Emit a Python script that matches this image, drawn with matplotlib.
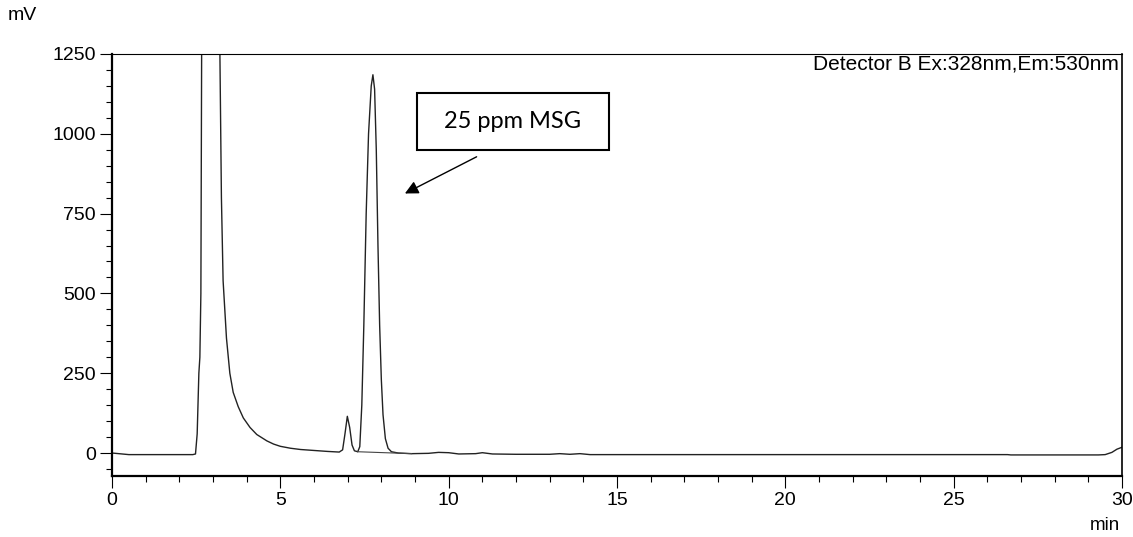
import matplotlib
matplotlib.use("Agg")
import matplotlib.pyplot as plt
from matplotlib.patches import Rectangle
from matplotlib.ticker import MultipleLocator

# Chromatogram trace (time in min, signal in mV)
time_min = [0.0, 0.3, 0.5, 1.5, 2.4, 2.48, 2.53, 2.58, 2.61, 2.64, 2.67, 2.75, 2.9,
            3.1, 3.2, 3.25, 3.3, 3.4, 3.5, 3.6, 3.75, 3.9, 4.1, 4.3, 4.45, 4.6, 4.8,
            5.0, 5.3, 5.6, 6.0, 6.4, 6.75, 6.85, 6.92, 6.99, 7.06, 7.13, 7.2, 7.3,
            7.36, 7.42, 7.48, 7.55, 7.62, 7.7, 7.75, 7.8, 7.85, 7.9, 7.95, 8.0, 8.05,
            8.12, 8.2, 8.3, 8.5, 8.9, 9.4, 9.7, 10.0, 10.3, 10.8, 11.0, 11.3, 12.0,
            13.0, 13.3, 13.6, 13.9, 14.2, 20.0, 26.6, 26.7, 29.3, 29.5, 29.7, 29.85, 30.0]
signal_mv = [0, -3, -5, -5, -5, -3, 60, 250, 300, 500, 1500, 2500, 2800,
             2000, 1300, 800, 540, 360, 250, 190, 145, 110, 80, 58, 48, 38, 28,
             21, 15, 11, 8, 5, 3, 10, 60, 115, 80, 25, 7, 4,
             20, 150, 400, 750, 1000, 1150, 1185, 1140, 950, 650, 400, 230, 120,
             45, 15, 4, 0, -2, -1, 2, 1, -3, -2, 1, -3, -4,
             -4, -2, -4, -2, -5, -5, -5, -6, -6, -5, 2, 12, 18]

# Integration baseline under the MSG peak
base_time = [7.3, 8.9]
base_mv = [4, -2]

x_ticks = [0, 5, 10, 15, 20, 25, 30]
y_ticks = [0, 250, 500, 750, 1000, 1250]

W, H = 1133, 537
fig = plt.figure(figsize=(W / 100, H / 100), dpi=100)
ax = fig.add_axes([112 / W, 1 - 476 / H, (1122 - 112) / W, (476 - 54) / H])

ax.plot(time_min, signal_mv, color="#222222", lw=1.0)
ax.plot(base_time, base_mv, color="#444444", lw=0.8)

ax.set_xlim(0, 30)
ax.set_ylim(-72, 1250)
ax.set_xticks(x_ticks)
ax.set_yticks(y_ticks)
ax.xaxis.set_minor_locator(MultipleLocator(1))
ax.yaxis.set_minor_locator(MultipleLocator(50))

font = "Liberation Sans"
ax.tick_params(which="major", direction="out", length=8.5, width=0.8, labelsize=14, pad=3)
ax.tick_params(which="minor", direction="out", length=4.3, width=0.8)
for lab in ax.get_xticklabels() + ax.get_yticklabels():
    lab.set_fontfamily(font)

ax.spines["left"].set_linewidth(1.6)
ax.spines["bottom"].set_linewidth(1.6)
ax.spines["top"].set_linewidth(0.8)
ax.spines["right"].set_linewidth(1.2)

ax.text(0.997, 0.976, "Detector B Ex:328nm,Em:530nm", transform=ax.transAxes,
        ha="right", va="center", fontsize=15, family=font)

fig.text(8 / W, 1 - 16 / H, "mV", ha="left", va="center", fontsize=14, family=font)
fig.text(1120 / W, 1 - 525 / H, "min", ha="right", va="center", fontsize=13.5, family=font)

# Annotation box
ax.add_patch(Rectangle((9.06, 949), 14.76 - 9.06, 1126.5 - 949, fill=False,
                       edgecolor="black", lw=1.5, zorder=5))
ax.text((9.06 + 14.76) / 2, 1038, "25 ppm MSG", ha="center", va="center",
        fontsize=17, family="Lato", zorder=6)
ax.annotate("", xy=(8.70, 813), xytext=(10.83, 928),
            arrowprops=dict(arrowstyle="-|>,head_length=0.8,head_width=0.4",
                            color="black", lw=1.0, shrinkA=0, shrinkB=0))

fig.savefig("out.png", dpi=100)
